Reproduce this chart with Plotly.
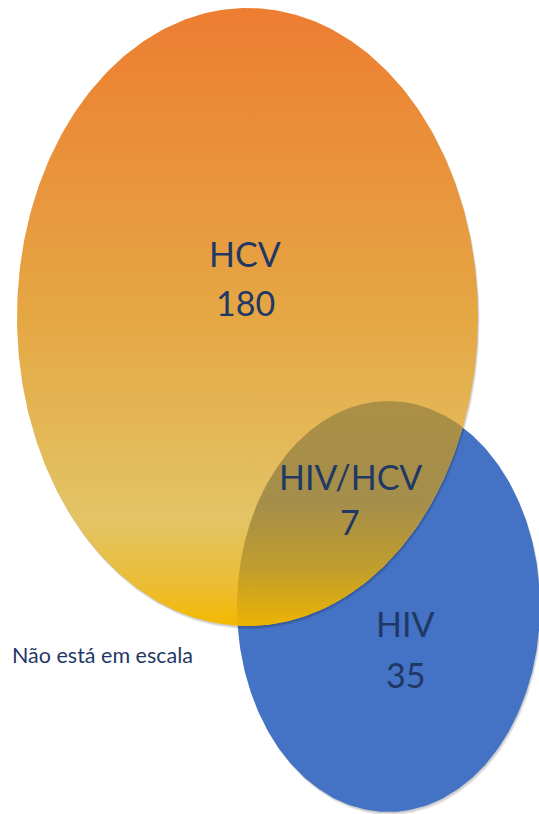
import numpy as np
import plotly.graph_objects as go

# ---- data ----
set_names = ["HCV", "HIV", "HIV/HCV"]
set_counts = [180, 35, 7]
note_text = "Não está em escala"

W, H = 539, 814

# ellipse geometry (pixel space): cx, cy, rx, ry
hcv_geom = (247.5, 317.0, 230.5, 309.0)
hiv_geom = (388.5, 606.5, 151.5, 205.5)


def ellipse_pts(g, n=400, dx=0.0, dy=0.0):
    cx, cy, rx, ry = g
    t = np.linspace(0, 2 * np.pi, n)
    return cx + dx + rx * np.cos(t), cy + dy + ry * np.sin(t)


def inside(g, x, y):
    cx, cy, rx, ry = g
    return ((x - cx) / rx) ** 2 + ((y - cy) / ry) ** 2 <= 1.0 + 1e-9


def intersection(g1, g2, n=2000):
    x1, y1 = ellipse_pts(g1, n)
    x2, y2 = ellipse_pts(g2, n)
    m1 = inside(g2, x1, y1)
    m2 = inside(g1, x2, y2)
    xs = np.concatenate([x1[m1], x2[m2]])
    ys = np.concatenate([y1[m1], y2[m2]])
    mx, my = xs.mean(), ys.mean()
    order = np.argsort(np.arctan2(ys - my, xs - mx))
    xs, ys = xs[order], ys[order]
    return np.append(xs, xs[0]), np.append(ys, ys[0])


fig = go.Figure()

# shadows
for g, a in [(hiv_geom, 0.10), (hcv_geom, 0.10)]:
    for k, (dx, dy) in enumerate([(1.5, 3.0), (0.8, 1.6)]):
        sx, sy = ellipse_pts(g, dx=dx, dy=dy)
        fig.add_trace(go.Scatter(x=sx, y=sy, mode="lines", fill="toself",
                                 fillcolor=f"rgba(0,0,0,{a})", line=dict(width=0),
                                 hoverinfo="skip", showlegend=False))
    if g is hiv_geom:
        bx, by = ellipse_pts(hiv_geom)
        fig.add_trace(go.Scatter(x=bx, y=by, mode="lines", fill="toself",
                                 fillcolor="#4472C4", line=dict(width=0),
                                 hoverinfo="skip", showlegend=False))

ox, oy = ellipse_pts(hcv_geom)
top_o = hcv_geom[1] - hcv_geom[3]
bot_o = hcv_geom[1] + hcv_geom[3]
fig.add_trace(go.Scatter(
    x=ox, y=oy, mode="lines", fill="toself", line=dict(width=0),
    fillgradient=dict(type="vertical", start=top_o, stop=bot_o,
                      colorscale=[[0.0, "#ED7D31"], [0.5, "#E5A744"],
                                  [0.83, "#E3C465"], [0.93, "#EBBD35"],
                                  [1.0, "#F5B800"]]),
    hoverinfo="skip", showlegend=False))

ix, iy = intersection(hcv_geom, hiv_geom)
fig.add_trace(go.Scatter(
    x=ix, y=iy, mode="lines", fill="toself", line=dict(width=0),
    fillgradient=dict(type="vertical", start=iy.min(), stop=iy.max(),
                      colorscale=[[0.0, "#AB8F45"], [0.45, "#A48E4B"],
                                  [0.75, "#C29E2C"], [1.0, "#EBB303"]]),
    hoverinfo="skip", showlegend=False))

font_main = dict(family="Lato, Open Sans, sans-serif", size=34, color="#1F3864")
# (x, name y, count y) label anchors in pixel space
labels_pos = {"HCV": (245, 253, 302), "HIV": (405, 623, 674), "HIV/HCV": (350, 476, 521)}
for name, cnt in zip(set_names, set_counts):
    x, yn, yc = labels_pos[name]
    fig.add_annotation(x=x, y=yn, text=name, showarrow=False, font=font_main,
                       xanchor="center", yanchor="middle")
    fig.add_annotation(x=x, y=yc, text=str(cnt), showarrow=False, font=font_main,
                       xanchor="center", yanchor="middle")

fig.add_annotation(x=10, y=655, text=note_text, showarrow=False,
                   font=dict(family="Lato, Open Sans, sans-serif", size=21.5,
                             color="#1F3864"),
                   xanchor="left", yanchor="middle")

fig.update_xaxes(range=[0, W], visible=False, fixedrange=True)
fig.update_yaxes(range=[H, 0], visible=False, fixedrange=True)
fig.update_layout(width=W, height=H, margin=dict(l=0, r=0, t=0, b=0),
                  paper_bgcolor="white", plot_bgcolor="white", showlegend=False)

fig.write_html("out.html", config={"displayModeBar": False},
               post_script="document.body.style.margin='0';document.body.style.overflow='hidden';")
